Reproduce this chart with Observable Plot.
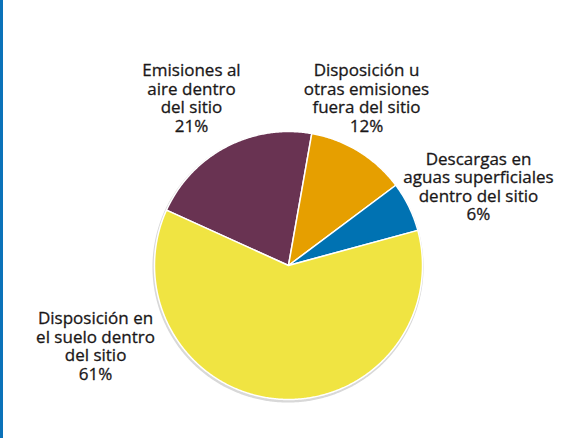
<!DOCTYPE html>
<html>
<head>
<meta charset="utf-8">
<script src="https://cdn.jsdelivr.net/npm/d3@7"></script>
<script src="https://cdn.jsdelivr.net/npm/@observablehq/plot@0.6"></script>
<style>
  body { margin: 0; background: #fff; }
  #wrap { position: relative; width: 581px; height: 438px; overflow: hidden; background: #fff; }
  #bar { position: absolute; left: 0; top: 0; width: 3px; height: 438px; background: #0b72b9; }
  #wrap svg { position: absolute; left: 0; top: 0; }
</style>
</head>
<body>
<div id="wrap"></div>
<script>
// ---- data ----
const categories = [
  "Emisiones al aire dentro del sitio",
  "Disposición u otras emisiones fuera del sitio",
  "Descargas en aguas superficiales dentro del sitio",
  "Disposición en el suelo dentro del sitio"
];
const values = [21, 12, 6, 61];
const percentLabels = ["21%", "12%", "6%", "61%"];
const nameLines = [
  ["Emisiones al", "aire dentro", "del sitio"],
  ["Disposición u", "otras emisiones", "fuera del sitio"],
  ["Descargas en", "aguas superficiales", "dentro del sitio"],
  ["Disposición en", "el suelo dentro", "del sitio"]
];
const colors = ["#693352", "#e69f00", "#0072b2", "#f0e442"];

// ---- layout (not data) ----
const startDeg = -65.6;
const labelX = [-0.724, 0.582, 1.418, -1.440];
const labelY = [1.250, 1.250, 0.590, -0.600];

const rows = categories.map((c, i) => ({
  name: c, value: values[i], color: colors[i],
  label: nameLines[i].join("\n") + "\n" + percentLabels[i],
  lx: labelX[i], ly: labelY[i]
}));

const pie = d3.pie().sort(null).value(d => d.value)
  .startAngle(startDeg * Math.PI / 180)
  .endAngle((startDeg + 360) * Math.PI / 180);
const arcs = pie(rows);

function wedge(a0, a1, r) {
  const pts = [{x: 0, y: 0}];
  const n = Math.max(2, Math.ceil((a1 - a0) / (Math.PI / 360)));
  for (let k = 0; k <= n; k++) {
    const t = a0 + (a1 - a0) * k / n;
    pts.push({x: r * Math.sin(t), y: r * Math.cos(t)});
  }
  pts.push({x: 0, y: 0});
  return pts;
}
function ring(r) {
  const pts = [];
  for (let k = 0; k <= 720; k++) {
    const t = 2 * Math.PI * k / 720;
    pts.push({x: r * Math.sin(t), y: r * Math.cos(t)});
  }
  return pts;
}

const marks = [];
// soft shadow / outline
marks.push(Plot.line(ring(1.006), {x: "x", y: "y", fill: "#d8d8d8", stroke: "#d8d8d8", strokeWidth: 1.5, dx: -0.5, dy: 1.5}));
arcs.forEach(a => {
  marks.push(Plot.line(wedge(a.startAngle, a.endAngle, 1), {
    x: "x", y: "y", fill: a.data.color, stroke: "white", strokeWidth: 1.5, curve: "linear"
  }));
});
marks.push(Plot.text(rows, {
  x: "lx", y: "ly", text: "label",
  fontSize: 17, fontFamily: "'Open Sans', sans-serif",
  fill: "#1a1718", stroke: "#1a1718", strokeWidth: 0.3,
  lineHeight: 1.09, textAnchor: "middle"
}));

const chart = Plot.plot({
  width: 581, height: 438, margin: 0,
  style: {background: "transparent", overflow: "visible"},
  x: {domain: [-1, 1], range: [154, 422], axis: null},
  y: {domain: [-1, 1], range: [399, 131], axis: null},
  marks
});
const wrap = document.getElementById("wrap");
wrap.appendChild(chart);
const bar = document.createElement("div");
bar.id = "bar";
wrap.appendChild(bar);
</script>
</body>
</html>
